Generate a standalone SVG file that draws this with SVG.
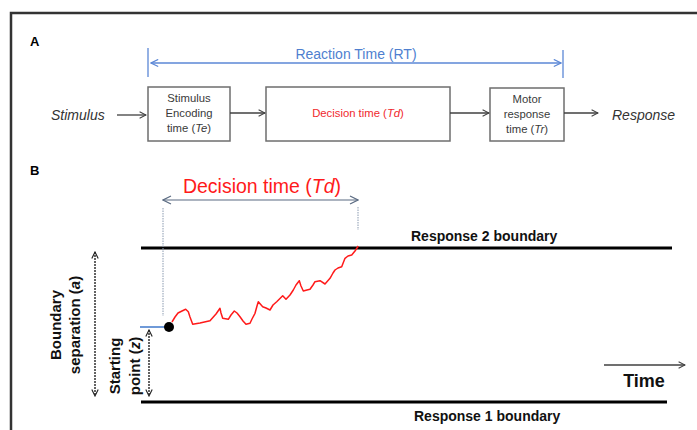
<svg xmlns="http://www.w3.org/2000/svg" width="697" height="430" viewBox="0 0 697 430">
<defs>
<style>
text{font-family:"Liberation Sans",Arial,sans-serif}
.box{fill:#fff;stroke:#6e6e6e;stroke-width:1.5}
.bt{font-size:11.3px;fill:#3a3a3a;text-anchor:middle}
.lab{font-size:13px;font-weight:bold;fill:#000}
.bold{font-weight:bold;fill:#111}
.conn{stroke:#404040;stroke-width:1.3;fill:none}
.bnd{stroke:#000;stroke-width:3;fill:none}
.dash{stroke:#222;stroke-width:1.4;stroke-dasharray:2,1;fill:none}
</style>
<marker id="ah" viewBox="0 0 10 10" refX="9" refY="5" markerWidth="8" markerHeight="8" markerUnits="userSpaceOnUse" orient="auto-start-reverse">
<path d="M1,1 L9,5 L1,9" fill="none" stroke="#404040" stroke-width="1.3"/>
</marker>
<marker id="ahb" viewBox="0 0 10 10" refX="9" refY="5" markerWidth="9" markerHeight="9" markerUnits="userSpaceOnUse" orient="auto-start-reverse">
<path d="M1,1 L9,5 L1,9" fill="none" stroke="#5b87d6" stroke-width="1.3"/>
</marker>
<marker id="ahg" viewBox="0 0 10 10" refX="9" refY="5" markerWidth="10" markerHeight="10" markerUnits="userSpaceOnUse" orient="auto-start-reverse">
<path d="M1,1 L9,5 L1,9" fill="none" stroke="#5b6b82" stroke-width="1.2"/>
</marker>
<marker id="ahd" viewBox="0 0 10 10" refX="9" refY="5" markerWidth="8" markerHeight="8" markerUnits="userSpaceOnUse" orient="auto-start-reverse">
<path d="M1,1 L9,5 L1,9" fill="none" stroke="#222" stroke-width="1.4"/>
</marker>
</defs>
<rect width="697" height="430" fill="#fff"/>
<path d="M11,440 L11,13 L710,13" fill="none" stroke="#333" stroke-width="2.5"/>
<text class="lab" x="30" y="46">A</text>
<text class="lab" x="30" y="175">B</text>

<g id="rt">
<line x1="148" y1="48" x2="148" y2="77" stroke="#5b87d6" stroke-width="1.3"/>
<line x1="563" y1="50" x2="563" y2="78" stroke="#5b87d6" stroke-width="1.3"/>
<text x="356" y="59" font-size="14" fill="#4f7fcf" text-anchor="middle">Reaction Time (RT)</text>
</g>

<g id="stimulus"><text x="51" y="120" font-size="14" font-style="italic" fill="#333">Stimulus</text></g>
<g id="encoding">
<rect class="box" x="148" y="87" width="82" height="54"/>
<text class="bt" x="189" y="102">Stimulus</text>
<text class="bt" x="189" y="117">Encoding</text>
<text class="bt" x="189" y="132">time (<tspan font-style="italic">Te</tspan>)</text>
</g>
<g id="decision">
<rect class="box" x="266" y="87" width="184" height="54"/>
<text class="bt" x="358" y="117" style="fill:#f0282d">Decision time (<tspan font-style="italic">Td</tspan>)</text>
</g>
<g id="motor">
<rect class="box" x="490" y="88" width="74" height="53"/>
<text class="bt" x="527" y="103">Motor</text>
<text class="bt" x="527" y="118">response</text>
<text class="bt" x="527" y="133">time (<tspan font-style="italic">Tr</tspan>)</text>
</g>
<g id="response"><text x="612" y="120" font-size="14" font-style="italic" fill="#333">Response</text></g>

<g id="boundaries">
<line class="bnd" x1="141" y1="248" x2="672" y2="248"/>
<line class="bnd" x1="141" y1="402" x2="667" y2="402"/>
<text class="bold" x="411" y="241" font-size="14">Response 2 boundary</text>
<text class="bold" x="414" y="421" font-size="14">Response 1 boundary</text>
</g>

<g id="dtlabel">
<text x="262" y="193" font-size="19.5" fill="#ff1a1a" text-anchor="middle">Decision time (<tspan font-style="italic">Td</tspan>)</text>
</g>

<g id="start">
<line x1="140" y1="327" x2="166" y2="327" stroke="#6f9ad8" stroke-width="2"/>
<circle cx="169" cy="327" r="5" fill="#000"/>
</g>

<g id="path">
<polyline fill="none" stroke="#ff1a1a" stroke-width="1.5" stroke-linejoin="round" points="172,322 175,317 178,313 182,311 185.7,309.3 188.3,311.7 190,317 192.7,324.3 200,323 210,320.7 216,314 220,308.3 221,313 222.7,318.3 228.3,319.3 231,315 234.3,311 237,313 240,316.7 243,321 246,324.3 250,323.3 252,319 255,313.3 257,306 258.3,301.7 262.7,306.7 266,308 270,310 273,305 276.7,301.7 282.7,295.7 286,299.3 290,295 293.3,290 296,285 299.3,280.7 301,286 303.3,291 307,290 310,289.3 313,285 315,281.7 320,280.7 325,284 330,278.3 333,273 335,270 338,268 341.7,266.7 345,258.3 348,256 351.7,255 355,251 358.3,246"/>
</g>

<g id="axis">
<text class="bold" x="644" y="387" font-size="18" text-anchor="middle">Time</text>
</g>

<g id="labels">
<text class="bold" font-size="15" text-anchor="middle" transform="translate(61,325) rotate(-90)">Boundary</text>
<text class="bold" font-size="15" text-anchor="middle" transform="translate(80,325) rotate(-90)">separation (<tspan font-style="italic">a</tspan>)</text>
<text class="bold" font-size="15" text-anchor="middle" transform="translate(120,366) rotate(-90)">Starting</text>
<text class="bold" font-size="15" text-anchor="middle" transform="translate(140,366) rotate(-90)">point (<tspan font-style="italic">z</tspan>)</text>
</g>

<g id="connectors">
<line class="conn" x1="117" y1="115" x2="146" y2="115" marker-end="url(#ah)"/>
<line class="conn" x1="230" y1="113" x2="265" y2="113" marker-end="url(#ah)"/>
<line class="conn" x1="450" y1="113" x2="489" y2="113" marker-end="url(#ah)"/>
<line class="conn" x1="564" y1="113" x2="598" y2="113" marker-end="url(#ah)"/>
<line x1="151" y1="63" x2="561" y2="63" stroke="#5b87d6" stroke-width="1.3" marker-start="url(#ahb)" marker-end="url(#ahb)"/>
<line x1="163" y1="200" x2="358" y2="200" stroke="#5b6b82" stroke-width="1.2" marker-start="url(#ahg)" marker-end="url(#ahg)"/>
<line x1="163" y1="208" x2="163" y2="316" stroke="#8a9ab0" stroke-width="1" stroke-dasharray="1.5,1"/>
<line x1="358" y1="207" x2="358" y2="230" stroke="#8a9ab0" stroke-width="1" stroke-dasharray="1.5,1"/>
<line class="dash" x1="95" y1="252" x2="95" y2="396" marker-start="url(#ahd)" marker-end="url(#ahd)"/>
<line class="dash" x1="149" y1="330" x2="149" y2="396" marker-start="url(#ahd)" marker-end="url(#ahd)"/>
<line class="conn" x1="604" y1="365" x2="685" y2="365" marker-end="url(#ah)"/>
</g>
</svg>
